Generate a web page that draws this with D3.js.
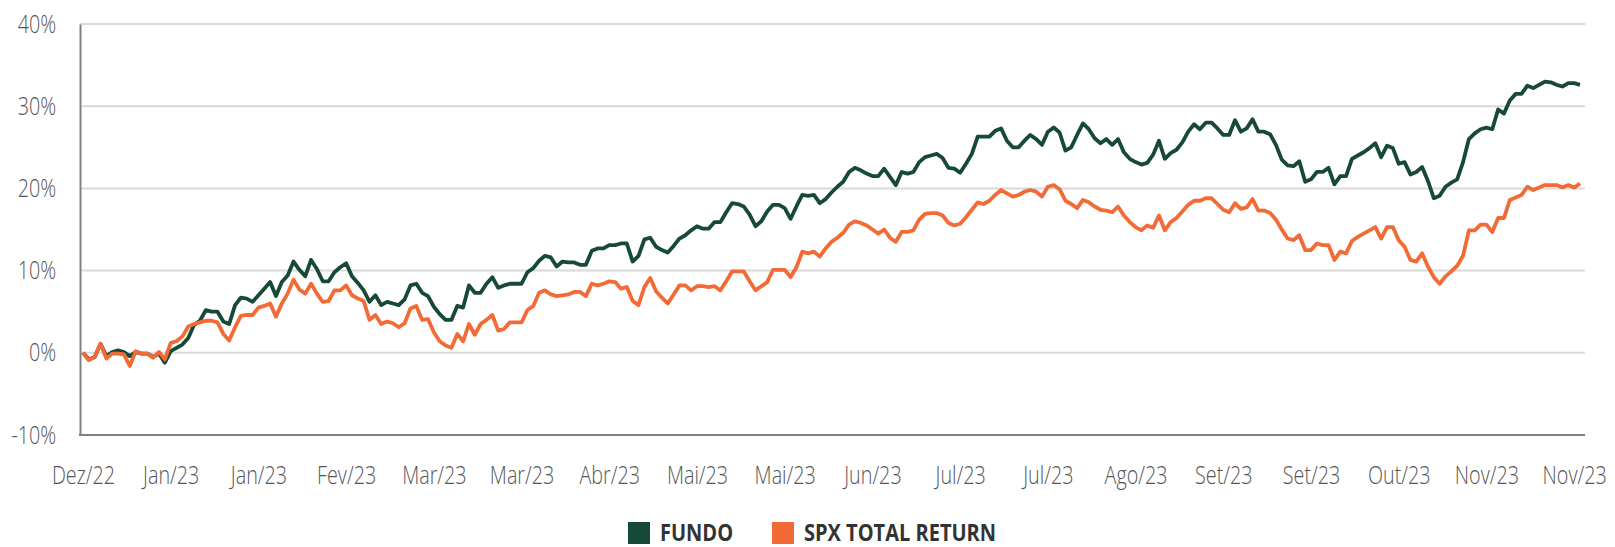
<!DOCTYPE html>
<html>
<head>
<meta charset="utf-8">
<script src="https://cdn.jsdelivr.net/npm/d3@7"></script>
<style>
    body { margin: 0; background: #fff; }
</style>
</head>
<body>
<div id="chart"></div>
<script>
// tick labels on the date axis (one every 15 points)
var dateLabels = ["Dez/22", "Jan/23", "Jan/23", "Fev/23", "Mar/23", "Mar/23", "Abr/23", "Mai/23", "Mai/23",
    "Jun/23", "Jul/23", "Jul/23", "Ago/23", "Set/23", "Set/23", "Out/23", "Nov/23", "Nov/23"];

var yTicks = [-10, 0, 10, 20, 30, 40];

// cumulative return, %
var fundo = [
    0.0, -0.8, -0.5, 1.1, -0.4, 0.1, 0.3, 0.1, -0.4, 0.1,
    -0.1, -0.1, -0.5, -0.1, -1.2, 0.2, 0.6, 1.0, 1.8, 3.4,
    3.9, 5.2, 5.0, 5.0, 3.8, 3.5, 5.8, 6.7, 6.6, 6.2,
    7.0, 7.8, 8.6, 6.9, 8.6, 9.4, 11.1, 10.1, 9.3, 11.3,
    10.2, 8.7, 8.7, 9.8, 10.4, 10.9, 9.3, 8.5, 7.6, 6.2,
    7.0, 5.8, 6.2, 6.0, 5.8, 6.5, 8.2, 8.4, 7.3, 6.9,
    5.6, 4.7, 4.0, 4.0, 5.7, 5.5, 8.2, 7.3, 7.3, 8.4,
    9.2, 7.9, 8.2, 8.4, 8.4, 8.4, 9.8, 10.3, 11.2, 11.8,
    11.6, 10.5, 11.1, 11.0, 11.0, 10.7, 10.7, 12.4, 12.7, 12.7,
    13.1, 13.1, 13.3, 13.3, 11.1, 11.8, 13.8, 14.0, 12.9, 12.5,
    12.2, 13.0, 13.9, 14.3, 14.9, 15.4, 15.1, 15.1, 15.9, 15.9,
    17.1, 18.2, 18.1, 17.8, 16.8, 15.4, 16.0, 17.2, 18.0, 18.0,
    17.6, 16.3, 17.8, 19.2, 19.1, 19.2, 18.2, 18.7, 19.5, 20.2,
    20.8, 22.0, 22.5, 22.2, 21.8, 21.5, 21.5, 22.4, 21.4, 20.4,
    22.0, 21.8, 22.0, 23.2, 23.8, 24.0, 24.2, 23.7, 22.5, 22.4,
    21.9, 23.0, 24.2, 26.3, 26.3, 26.3, 27.0, 27.3, 25.8, 25.0,
    25.0, 25.8, 26.5, 26.0, 25.3, 26.9, 27.4, 26.8, 24.6, 25.0,
    26.5, 27.9, 27.2, 26.1, 25.5, 26.0, 25.3, 26.0, 24.4, 23.6,
    23.2, 22.9, 23.1, 24.1, 25.8, 23.6, 24.3, 24.7, 25.6, 26.9,
    27.8, 27.2, 28.0, 28.0, 27.3, 26.5, 26.5, 28.3, 26.9, 27.3,
    28.4, 26.9, 26.9, 26.6, 25.3, 23.5, 22.8, 22.7, 23.3, 20.8,
    21.1, 22.0, 22.0, 22.5, 20.5, 21.5, 21.5, 23.6, 24.0, 24.4,
    24.9, 25.5, 23.8, 25.2, 24.9, 23.0, 23.2, 21.7, 22.0, 22.6,
    20.9, 18.8, 19.1, 20.2, 20.7, 21.1, 23.2, 26.0, 26.7, 27.2,
    27.4, 27.2, 29.6, 29.1, 30.7, 31.5, 31.5, 32.5, 32.2, 32.6,
    33.0, 32.9, 32.6, 32.4, 32.8, 32.8, 32.6
];

var spx = [
    0.0, -0.9, -0.5, 1.1, -0.7, -0.1, -0.1, -0.2, -1.6, 0.2,
    -0.1, -0.1, -0.6, 0.1, -0.8, 1.2, 1.4, 2.0, 3.2, 3.5,
    3.7, 3.9, 3.9, 3.7, 2.3, 1.5, 3.1, 4.5, 4.6, 4.6,
    5.5, 5.7, 6.0, 4.4, 6.0, 7.2, 8.9, 7.7, 7.2, 8.4,
    7.2, 6.2, 6.3, 7.6, 7.6, 8.2, 7.0, 6.6, 6.3, 4.0,
    4.6, 3.5, 3.8, 3.6, 3.1, 3.6, 5.4, 5.7, 4.0, 4.1,
    2.5, 1.4, 0.9, 0.6, 2.3, 1.4, 3.5, 2.2, 3.5, 4.0,
    4.6, 2.7, 2.9, 3.7, 3.7, 3.7, 5.2, 5.7, 7.3, 7.6,
    7.1, 6.9, 7.0, 7.1, 7.4, 7.4, 6.9, 8.4, 8.2, 8.4,
    8.7, 8.6, 7.8, 8.0, 6.3, 5.8, 8.0, 9.1, 7.5, 6.7,
    6.0, 7.1, 8.2, 8.2, 7.6, 8.1, 8.1, 8.0, 8.1, 7.6,
    8.7, 9.9, 9.9, 9.9, 8.7, 7.6, 8.1, 8.6, 10.1, 10.1,
    10.1, 9.2, 10.4, 12.3, 12.1, 12.3, 11.7, 12.7, 13.5, 14.0,
    14.6, 15.6, 16.0, 15.8, 15.5, 15.0, 14.5, 15.0, 14.0, 13.5,
    14.7, 14.7, 14.9, 16.2, 16.9, 17.0, 17.0, 16.7, 15.8, 15.5,
    15.7, 16.5, 17.4, 18.3, 18.1, 18.5, 19.2, 19.8, 19.4, 19.0,
    19.2, 19.6, 19.8, 19.6, 19.0, 20.2, 20.4, 19.9, 18.5, 18.1,
    17.6, 18.6, 18.3, 17.8, 17.4, 17.3, 17.1, 17.8, 16.7, 15.9,
    15.3, 14.9, 15.5, 15.2, 16.7, 14.9, 15.9, 16.4, 17.2, 18.0,
    18.5, 18.5, 18.8, 18.8, 18.1, 17.4, 17.1, 18.2, 17.5, 17.7,
    18.7, 17.3, 17.3, 17.0, 16.2, 15.0, 13.9, 13.7, 14.3, 12.5,
    12.5, 13.3, 13.1, 13.1, 11.3, 12.3, 12.1, 13.6, 14.1, 14.5,
    14.9, 15.3, 13.9, 15.3, 15.3, 13.7, 12.9, 11.3, 11.1, 12.1,
    10.5, 9.2, 8.4, 9.3, 9.9, 10.6, 11.8, 14.9, 14.9, 15.6,
    15.6, 14.7, 16.4, 16.4, 18.6, 18.9, 19.2, 20.2, 19.8, 20.1,
    20.4, 20.4, 20.4, 20.1, 20.4, 20.1, 20.6
];

var seriesNames = ["FUNDO", "SPX TOTAL RETURN"];
var seriesColors = ["#174a36", "#f26a35"];

(function () {

    var width = 1615;
    var height = 547;
    var left = 80, right = 1585, top = 24, bottom = 435;
    var font = "'Open Sans', sans-serif";

    var svg = d3.select("#chart")
        .append("svg")
        .attr("width", width)
        .attr("height", height)

    var x = d3.scaleLinear().domain([0, fundo.length - 1]).range([83, 1580])
    var y = d3.scaleLinear().domain([-10, 40]).range([bottom, top])

    // gridlines
    svg.append("g")
        .selectAll("line")
        .data(yTicks.slice(1))
        .enter().append("line")
        .attr("x1", left)
        .attr("x2", right)
        .attr("y1", function (d) { return y(d) })
        .attr("y2", function (d) { return y(d) })
        .attr("stroke", "#d9d9d9")
        .attr("stroke-width", 2)

    // y axis
    var yAxis = svg.append("g")
        .attr("transform", "translate(" + left + ",0)")
        .call(d3.axisLeft(y).tickValues(yTicks).tickSize(0).tickSizeOuter(0).tickPadding(30)
            .tickFormat(function (d) { return d + "%" }))
    yAxis.select(".domain").attr("stroke", "#808080").attr("stroke-width", 2)
    yAxis.selectAll("text")
        .attr("font-family", font)
        .attr("font-weight", 300)
        .attr("font-size", 25)
        .attr("fill", "#555")
        .attr("transform", "scale(0.79,1)")

    // x axis
    var xAxis = svg.append("g")
        .attr("transform", "translate(0," + bottom + ")")
        .call(d3.axisBottom(x).tickValues(d3.range(0, 15 * dateLabels.length, 15)).tickSize(0).tickPadding(31)
            .tickFormat(function (d, i) { return dateLabels[i] }))
    xAxis.select(".domain").remove()
    xAxis.selectAll("text")
        .attr("font-family", font)
        .attr("font-weight", 300)
        .attr("font-size", 25)
        .attr("fill", "#555")
        .attr("transform", "scale(0.79,1)")

    svg.append("line")
        .attr("x1", left - 1)
        .attr("x2", right)
        .attr("y1", bottom)
        .attr("y2", bottom)
        .attr("stroke", "#808080")
        .attr("stroke-width", 2)

    // series lines
    var line = d3.line()
        .x(function (d, i) { return x(i) })
        .y(function (d) { return y(d) })

    svg.selectAll(".series")
        .data([fundo, spx])
        .enter().append("path")
        .attr("class", "series")
        .attr("d", line)
        .attr("fill", "none")
        .attr("stroke", function (d, i) { return seriesColors[i] })
        .attr("stroke-width", 3.8)
        .attr("stroke-linejoin", "round")

    // legend
    var legendX = [628, 772];
    var legend = svg.selectAll(".legend")
        .data(seriesNames)
        .enter().append("g")
        .attr("class", "legend")
        .attr("transform", function (d, i) { return "translate(" + legendX[i] + ",522)" })

    legend.append("rect")
        .attr("width", 22)
        .attr("height", 22)
        .attr("fill", function (d, i) { return seriesColors[i] })

    legend.append("text")
        .attr("transform", "translate(32,11) scale(0.87,1)")
        .attr("dy", "0.35em")
        .attr("font-family", font)
        .attr("font-weight", 700)
        .attr("font-size", 23)
        .attr("fill", "#333")
        .text(function (d) { return d })

})();
</script>
</body>
</html>
